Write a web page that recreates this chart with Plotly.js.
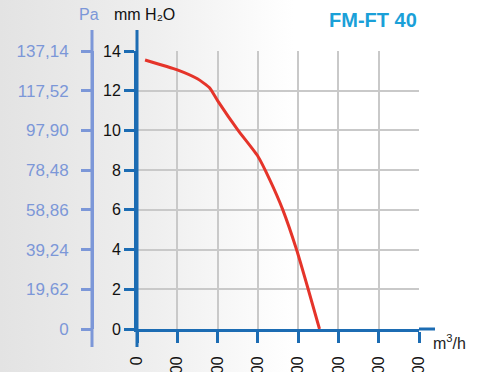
<!DOCTYPE html>
<html>
<head>
<meta charset="utf-8">
<script src="https://cdn.plot.ly/plotly-3.0.1.min.js"></script>
<style>
  html, body { margin: 0; padding: 0; background: #ffffff; }
  #chart { width: 489px; height: 372px; }
</style>
</head>
<body>
<div id="chart"></div>
<script>
// ---- data ----
const flow = [20, 100, 150, 180, 200, 251, 300, 330, 362, 396, 425, 453];
const pressure = [13.55, 13.05, 12.6, 12.15, 11.5, 10.0, 8.7, 7.5, 6.0, 4.0, 2.0, 0];
const mmTicks = [0, 2, 4, 6, 8, 10, 12, 14];
const paTickText = ["0", "19,62", "39,24", "58,86", "78,48", "97,90", "117,52", "137,14"];
const flowTicks = [0, 100, 200, 300, 400, 500, 600, 700];
const flowTickText = ["0", "100", "200", "300", "400", "500", "600", "700"];
const modelName = "FM-FT 40";

// ---- geometry helpers (pixels -> paper) ----
const W = 489, H = 372;
const mL = 92, mR = 70, mT = 51, mB = 43;
const pw = W - mL - mR, ph = H - mT - mB;
const px = v => (v - mL) / pw;
const py = v => (H - mB - v) / ph;

const blue = '#1c6cb3';
const paBlue = '#7c97d8';
const gridC = '#c9c9c9';
const font = 'Liberation Sans, Arial, sans-serif';

const bgSvg = "<svg xmlns='http://www.w3.org/2000/svg' width='489' height='372'>" +
  "<defs><linearGradient id='g' x1='0' x2='1' y1='0' y2='0'>" +
  "<stop offset='0' stop-color='#e3e3e3'/><stop offset='0.3' stop-color='#eeeeee'/><stop offset='0.6' stop-color='#ffffff'/>" +
  "</linearGradient></defs><rect width='489' height='372' fill='url(#g)'/></svg>";

const traces = [{
  x: flow, y: pressure, type: 'scatter', mode: 'lines',
  line: { color: '#e5342a', width: 3, shape: 'spline', smoothing: 0.5 },
  xaxis: 'x', yaxis: 'y', hoverinfo: 'skip'
}, {
  x: [0], y: [0], type: 'scatter', mode: 'markers', marker: { opacity: 0 },
  xaxis: 'x', yaxis: 'y2', showlegend: false, hoverinfo: 'skip'
}];

const layout = {
  width: W, height: H,
  margin: { l: mL, r: mR, t: mT, b: mB, pad: 0 },
  paper_bgcolor: '#ffffff', plot_bgcolor: 'rgba(0,0,0,0)',
  showlegend: false,
  font: { family: font, size: 16, color: '#111' },
  xaxis: {
    domain: [px(137), 1], range: [0, 700],
    tickvals: flowTicks, ticktext: flowTickText, tickangle: -90,
    ticks: 'outside', ticklen: 11, tickwidth: 3, tickcolor: blue,
    showline: true, linecolor: blue, linewidth: 3,
    showgrid: true, gridcolor: gridC, gridwidth: 2,
    zeroline: false, ticklabelstandoff: 7,
    tickfont: { family: font, size: 16, color: '#111' },
    fixedrange: true
  },
  yaxis: {
    range: [0, 14], tickvals: mmTicks, ticktext: mmTicks.map(String),
    ticks: 'outside', ticklen: 10, tickwidth: 3, tickcolor: blue,
    showline: true, linecolor: blue, linewidth: 3,
    showgrid: true, gridcolor: gridC, gridwidth: 2,
    zeroline: false, anchor: 'x',
    tickfont: { family: font, size: 16, color: '#111' },
    fixedrange: true
  },
  yaxis2: {
    overlaying: 'y', anchor: 'free', position: 0, side: 'left',
    range: [0, 14], tickvals: mmTicks, ticktext: paTickText,
    ticks: 'outside', ticklen: 10, tickwidth: 3, tickcolor: paBlue,
    showline: true, linecolor: paBlue, linewidth: 3,
    showgrid: false, zeroline: false, ticklabelstandoff: 9,
    tickfont: { family: font, size: 17, color: paBlue },
    fixedrange: true
  },
  images: [{
    source: 'data:image/svg+xml;charset=utf-8,' + encodeURIComponent(bgSvg),
    xref: 'paper', yref: 'paper', x: px(0), y: py(0),
    sizex: W / pw, sizey: H / ph, sizing: 'stretch',
    xanchor: 'left', yanchor: 'top', layer: 'below'
  }],
  shapes: [
    { type: 'line', xref: 'paper', yref: 'paper', x0: px(137), x1: px(137), y0: py(30), y1: py(347), line: { color: blue, width: 3 } },
    { type: 'line', xref: 'paper', yref: 'paper', x0: 0, x1: 0, y0: py(30), y1: py(347), line: { color: paBlue, width: 3 } },
    { type: 'line', xref: 'paper', yref: 'paper', x0: 1, x1: px(435), y0: 0, y1: 0, line: { color: blue, width: 3 } }
  ],
  annotations: [
    { text: modelName, xref: 'paper', yref: 'paper', x: 1, y: py(20), xanchor: 'right', yanchor: 'middle',
      showarrow: false, font: { family: font, size: 20, color: '#1aa0d8', weight: 'bold' } },
    { text: 'Pa', xref: 'paper', yref: 'paper', x: px(89), y: py(15), xanchor: 'center', yanchor: 'middle',
      showarrow: false, font: { family: font, size: 16, color: paBlue } },
    { text: 'mm H₂O', xref: 'paper', yref: 'paper', x: px(112), y: py(15), xanchor: 'left', yanchor: 'middle',
      showarrow: false, font: { family: font, size: 16, color: '#111' } },
    { text: 'm<sup>3</sup>/h', xref: 'paper', yref: 'paper', x: px(431), y: py(342), xanchor: 'left', yanchor: 'middle',
      showarrow: false, font: { family: font, size: 16, color: '#222' } }
  ]
};

Plotly.newPlot('chart', traces, layout, { displayModeBar: false, staticPlot: true });
</script>
</body>
</html>
